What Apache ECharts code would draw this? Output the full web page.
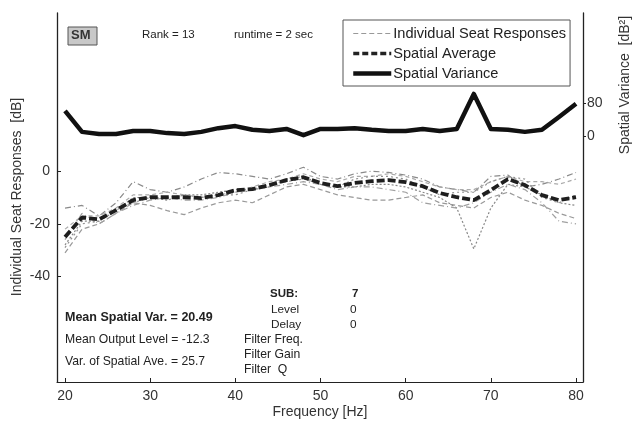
<!DOCTYPE html>
<html><head><meta charset="utf-8">
<script src="https://cdn.jsdelivr.net/npm/echarts@6/dist/echarts.min.js"></script>
<style>html,body{margin:0;padding:0;background:#fff}#c{width:634px;height:422px}</style>
</head><body><div id="c"></div>
<script>
const freqs = [20,22,24,26,28,30,32,34,36,38,40,42,44,46,48,50,52,54,56,58,60,62,64,66,68,70,72,74,76,78,80];
const spatialAverage = [-25,-17.6,-18.3,-14.8,-11,-9.9,-9.9,-9.9,-10.2,-9.1,-7.2,-6.8,-5.3,-3.4,-2.3,-4.5,-5.7,-4.5,-3.8,-3.4,-4.2,-5.7,-8.3,-9.9,-11,-7.2,-3,-5.3,-9.1,-11,-9.9];
const spatialVariance = [61,10,5,5,12,12,7,5,10,19,24,15,12,17,2,17,17,19,15,12,12,17,12,17,102,17,15,10,15,46,78];
const seat1 = [-14,-13,-17,-12,-4,-7,-8,-6,-3,-0.5,-1,-2,-3,-1,1.5,-2,-3,-1,0,-0.5,-1.5,-3,-6,-7,-8,-2,-1.5,-6,-5,-3,-0.5];
const seat2 = [-31,-22,-20,-16,-12,-13,-15,-16.5,-14,-12,-11,-12,-9,-6,-5,-7,-9,-10,-11,-11,-10,-9,-12,-13,-14,-10,-8,-11,-13,-16,-18];
const seat3 = [-28,-19,-19,-15,-10,-10,-11,-9,-9,-8,-7,-7,-6,-3,-2,-5,-6,-6,-5,-5,-6,-8,-10,-14,-29.5,-14,-5,-6,-9,-12,-13];
const seat4 = [-26,-16,-20,-16,-13,-11,-10,-11,-11,-10,-8,-7,-6,-5,-4,-5,-7,-6,-6,-7,-8,-12,-13,-14,-12,-8,-5,-7,-12,-19,-20];
const seat5 = [-22,-17,-17,-14,-9,-9,-8,-9,-10,-9,-8,-6,-4,-3,-1,-3,-4,-2,-2,-1,-2,-4,-6,-7,-7,-4,-2,-4,-4,-5,-3];
const seat6 = [-29,-20,-19,-14,-12,-10,-10,-9,-10,-9,-9,-7,-5,-4,-3,-5,-6,-3,-2,-2,-3,-6,-9,-8,-8,-4,-2,-3,-10,-12,-9];
const seats = [seat1, seat2, seat3, seat4, seat5, seat6];
const xTicks = [20,30,40,50,60,70,80];
const leftTicks = [-40,-20,0];
const rightTicks = [0,80];
const legendNames = ['Individual Seat Responses','Spatial Average','Spatial Variance'];

const pair = arr => freqs.map((f,i)=>[f,arr[i]]);
const seatStyles = [
  {type:[6,3,1,3], color:'#8a8a8a'},
  {type:[5,3], color:'#999'},
  {type:[2,2], color:'#888'},
  {type:[6,3,1,3], color:'#a0a0a0'},
  {type:[4,3], color:'#aaa'},
  {type:[2,3], color:'#909090'}
];
const noSym = {color:'rgba(0,0,0,0)', opacity:0};
const series = seats.map((s,k)=>({
  name: legendNames[0], type:'line', data: pair(s), yAxisIndex:0, symbol:'none', itemStyle:noSym,
  lineStyle:{width:1.2, type:seatStyles[k].type, color:seatStyles[k].color}, z:2, silent:true
}));
series.push({name:legendNames[1], type:'line', data:pair(spatialAverage), yAxisIndex:0, symbol:'none', itemStyle:noSym,
  lineStyle:{width:3.8, type:[8,3], color:'#1e1e1e'}, z:3});
series.push({name:legendNames[2], type:'line', data:pair(spatialVariance), yAxisIndex:1, symbol:'none', itemStyle:noSym,
  lineStyle:{width:4.5, color:'#111', join:'round'}, z:4});

const F = '"Liberation Sans", Arial, sans-serif';
const txt = (x,y,t,opt={}) => ({type:'text', left:x, top:y, style:Object.assign({text:t, fill:'#222', font:'12.2px ' + F}, opt)});

const chart = echarts.init(document.getElementById('c'), null, {renderer:'canvas'});
chart.setOption({
  animation:false,
  backgroundColor:'#fff',
  grid:{left:57, right:51, top:13, bottom:40},
  legend:{
    data:[
      {name:legendNames[0], lineStyle:{width:1.2, type:[5,3], color:'#999'}},
      {name:legendNames[1], lineStyle:{width:3.5, type:[6,3], color:'#222'}},
      {name:legendNames[2], lineStyle:{width:4.5, type:'solid', color:'#111'}}
    ],
    orient:'vertical', left:343, top:20, padding:[6,4,5,8],
    itemWidth:38, itemHeight:14, itemGap:5, backgroundColor:'#fff', borderColor:'#555', borderWidth:1,
    itemStyle:{opacity:0},
    textStyle:{fontSize:14.6, color:'#222', fontFamily:F, padding:[0,0,0,-3]}
  },
  xAxis:{type:'value', min:19.06, max:80.82,
    axisLine:{onZero:false, lineStyle:{color:'#222', width:1}},
    axisTick:{inside:true, length:4, customValues:xTicks, lineStyle:{color:'#222'}},
    axisLabel:{customValues:xTicks, fontSize:14, color:'#333', margin:7, fontFamily:F},
    splitLine:{show:false}},
  yAxis:[
    {type:'value', min:-80, max:60, position:'left',
      axisLine:{show:true, onZero:false, lineStyle:{color:'#222', width:1.3}},
      axisTick:{show:true, inside:true, length:4, customValues:leftTicks, lineStyle:{color:'#222'}},
      axisLabel:{customValues:leftTicks, fontSize:14, color:'#333', margin:7, fontFamily:F},
      splitLine:{show:false}},
    {type:'value', min:-596, max:298, position:'right',
      axisLine:{show:true, onZero:false, lineStyle:{color:'#222', width:1.3}},
      axisTick:{show:true, inside:false, length:3, customValues:rightTicks, lineStyle:{color:'#222'}},
      axisLabel:{customValues:rightTicks, fontSize:14, color:'#333', margin:4, fontFamily:F},
      splitLine:{show:false}}
  ],
  series: series,
  graphic:[
    {type:'rect', shape:{x:68, y:27, width:29, height:18}, style:{fill:'#c8c8c8', stroke:'#555', lineWidth:1}},
    {type:'text', left:71, top:29, style:{text:'SM', fill:'#333', font:'bold 13px ' + F}},
    txt(142,29,'Rank = 13',{font:'11.5px ' + F}),
    txt(234,29,'runtime = 2 sec',{font:'11.5px ' + F}),
    {type:'text', x:17, y:197, rotation:Math.PI/2, style:{text:'Individual Seat Responses  [dB]', fill:'#333', font:'14px ' + F, align:'center', verticalAlign:'middle'}},
    {type:'text', x:625, y:85, rotation:Math.PI/2, style:{text:'Spatial Variance  [dB\u00b2]', fill:'#333', font:'14px ' + F, align:'center', verticalAlign:'middle'}},
    {type:'text', x:320, y:412, style:{text:'Frequency [Hz]', fill:'#333', font:'14px ' + F, align:'center', verticalAlign:'middle'}},
    txt(65,311,'Mean Spatial Var. = 20.49',{font:'bold 12.5px ' + F}),
    txt(65,334,'Mean Output Level = -12.3'),
    txt(65,356,'Var. of Spatial Ave. = 25.7'),
    txt(270,288,'SUB:',{font:'bold 11.5px ' + F}),
    txt(352,288,'7',{font:'bold 11.5px ' + F}),
    txt(271,304,'Level',{font:'11.8px ' + F}),
    txt(350,304,'0',{font:'11.8px ' + F}),
    txt(271,319,'Delay',{font:'11.8px ' + F}),
    txt(350,319,'0',{font:'11.8px ' + F}),
    txt(244,334,'Filter Freq.',{font:'12.2px ' + F}),
    txt(244,349,'Filter Gain',{font:'12.2px ' + F}),
    txt(244,364,'Filter  Q',{font:'12.2px ' + F})
  ]
});
</script></body></html>
